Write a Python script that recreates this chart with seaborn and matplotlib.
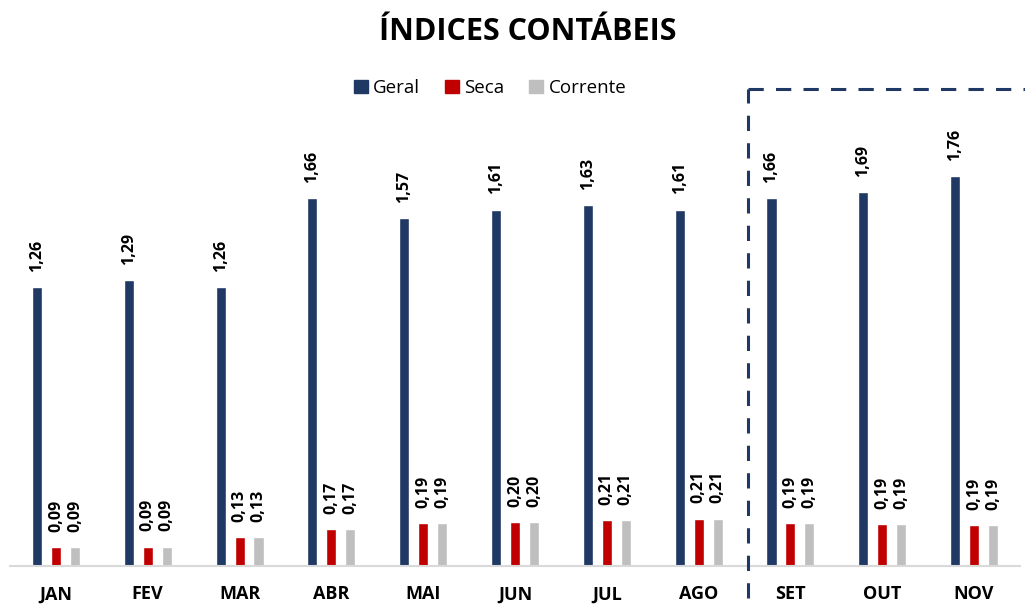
import pandas as pd
import matplotlib.pyplot as plt
import seaborn as sns
from matplotlib.lines import Line2D
from matplotlib.patches import Patch

# data
meses = ['JAN', 'FEV', 'MAR', 'ABR', 'MAI', 'JUN', 'JUL', 'AGO', 'SET', 'OUT', 'NOV']
geral = [1.26, 1.29, 1.26, 1.66, 1.57, 1.61, 1.63, 1.61, 1.66, 1.69, 1.76]
seca = [0.086, 0.088, 0.131, 0.167, 0.194, 0.198, 0.207, 0.214, 0.194, 0.19, 0.186]
corrente = [0.086, 0.088, 0.131, 0.167, 0.194, 0.198, 0.207, 0.214, 0.194, 0.19, 0.186]
series = ['Geral', 'Seca', 'Corrente']
cores = ['#1F3864', '#C00000', '#BFBFBF']

df = pd.DataFrame({'mes': meses * 3,
                   'serie': ['Geral'] * 11 + ['Seca'] * 11 + ['Corrente'] * 11,
                   'valor': geral + seca + corrente})

sns.set_style('white')
plt.rcParams['font.family'] = ['Open Sans', 'DejaVu Sans']
plt.rcParams['text.color'] = 'black'
plt.rcParams['xtick.color'] = 'black'

fig = plt.figure(figsize=(10.25, 6.1), dpi=100)
ax = fig.add_axes([10 / 1025, 44 / 610, 1010 / 1025, 496 / 610])

sns.barplot(data=df, x='mes', y='valor', hue='serie', order=meses, hue_order=series,
            palette=cores, width=0.62, gap=0.47, ax=ax, legend=False, saturation=1)

for cont in ax.containers:
    vals = [b.get_height() for b in cont]
    labs = [f"{v:.2f}".replace('.', ',') for v in vals]
    ax.bar_label(cont, labels=labs, rotation=90, padding=11, fontsize=11.5,
                 fontweight='bold', color='black')

ax.set_xlim(-0.5, 10.5)
ax.set_ylim(0, 2.24)
ax.set_xlabel('')
ax.set_ylabel('')
ax.set_yticks([])
for s in ['top', 'right', 'left']:
    ax.spines[s].set_visible(False)
ax.spines['bottom'].set_color('#D9D9D9')
ax.spines['bottom'].set_linewidth(1.5)
ax.tick_params(axis='x', length=0, pad=14, labelsize=13, labelcolor='black')
for t in ax.get_xticklabels():
    t.set_fontweight('bold')

handles = [Patch(color=c, label=s) for s, c in zip(series, cores)]
fig.legend(handles=handles, loc='center', bbox_to_anchor=(490 / 1025, 1 - 88 / 610), ncol=3,
           frameon=False, fontsize=13.5, handlelength=0.75, handleheight=0.75,
           handletextpad=0.3, columnspacing=1.3, labelcolor='black')

fig.text(0.515, 1 - 32 / 610, 'ÍNDICES CONTÁBEIS', ha='center', va='center',
         fontsize=22, fontweight='bold', color='black')

# caixa tracejada
x0 = 748 / 1025
ytop = 1 - 89 / 610
fig.add_artist(Line2D([x0, x0], [1 - 598 / 610, ytop], color='#1F3864', lw=2.2,
                      linestyle=(0, (5, 4))))
fig.add_artist(Line2D([x0, 1.0], [ytop, ytop], color='#1F3864', lw=2.2,
                      linestyle=(0, (5, 4))))

fig.savefig('out.png', dpi=100)
